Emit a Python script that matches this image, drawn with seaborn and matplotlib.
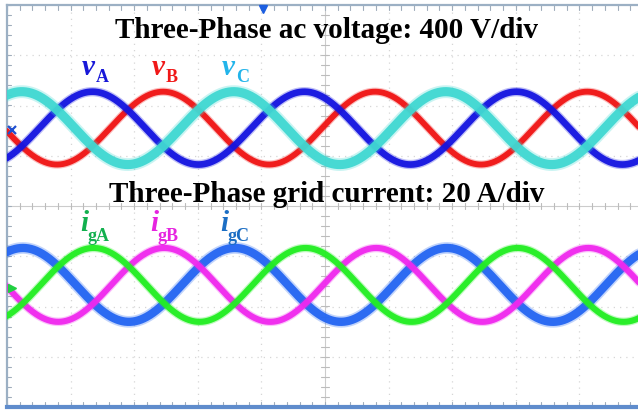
import numpy as np
import pandas as pd
import matplotlib
matplotlib.use("Agg")
import matplotlib.pyplot as plt
import seaborn as sns

# ---- data ----
freq_hz = 60.0                    # ~3.33 div per cycle at 5 ms/div
ms_per_div = 5.0
volt_per_div = 400.0
amp_per_div = 20.0

volt_names = ["vA", "vB", "vC"]
volt_peak = [290.0, 290.0, 290.0]          # V
volt_phase_deg = [35.0, -85.0, 155.0]      # phase at t = 0 (screen centre)
volt_offset_div = 1.55                     # channel ground position (div)

curr_names = ["igA", "igB", "igC"]
curr_peak = [14.7, 14.7, 14.7]             # A
curr_phase_deg = [33.0, -87.0, 153.0]
curr_offset_div = -1.57

trace_colors = {"vA": "#1414e0", "vB": "#f01414", "vC": "#40d8d2",
                "igA": "#22ee22", "igB": "#f028ee", "igC": "#2466f2"}
trace_width = {"vA": 4.8, "vB": 4.2, "vC": 6.6,
               "igA": 4.4, "igB": 4.4, "igC": 6.0}
draw_order = ["vB", "vA", "vC", "igC", "igB", "igA"]

title_v = "Three-Phase ac voltage: 400 V/div"
title_i = "Three-Phase grid current: 20 A/div"

# ---- build long-format table ----
t = np.linspace(-26, 26, 1500)     # ms
rows = []
for n, a, p in zip(volt_names, volt_peak, volt_phase_deg):
    y = volt_offset_div + a / volt_per_div * np.cos(2 * np.pi * freq_hz * t / 1000 + np.deg2rad(p))
    rows.append(pd.DataFrame({"t": t, "y": y, "trace": n}))
for n, a, p in zip(curr_names, curr_peak, curr_phase_deg):
    y = curr_offset_div + a / amp_per_div * np.cos(2 * np.pi * freq_hz * t / 1000 + np.deg2rad(p))
    rows.append(pd.DataFrame({"t": t, "y": y, "trace": n}))
df = pd.concat(rows, ignore_index=True)

sns.set_style("white")
W, H = 638, 412
fig = plt.figure(figsize=(W / 100, H / 100), dpi=100)
fig.patch.set_facecolor("white")
ax = fig.add_axes([7 / W, 5 / H, 636 / W, 402 / H])
ax.set_xlim(-5 * ms_per_div, 5 * ms_per_div)
ax.set_ylim(-4, 4)
ax.set_facecolor("white")

# grid
gcol = "#d6d6d6"
for k in range(-4, 5):
    if k != 0:
        ax.axvline(k * ms_per_div, color=gcol, lw=0.9, ls=(0, (1, 4)), zorder=0)
for k in range(-3, 4):
    if k != 0:
        ax.axhline(k, color=gcol, lw=0.9, ls=(0, (1, 4)), zorder=0)
ax.axvline(0, color="#cccccc", lw=0.8, zorder=0)
ax.axhline(0, color="#cccccc", lw=0.8, zorder=0)
# minor ticks on centre lines
for k in np.arange(-25, 25.01, 1.0):
    ax.plot([k, k], [-0.06, 0.06], color="#bcbcbc", lw=0.8, zorder=0)
for k in np.arange(-4, 4.01, 0.2):
    ax.plot([-0.3, 0.3], [k, k], color="#bcbcbc", lw=0.8, zorder=0)
# border ticks
for k in np.arange(-25, 25.01, 1.0):
    ax.plot([k, k], [4, 3.9], color="#a0adbb", lw=0.8, zorder=0)
    ax.plot([k, k], [-4, -3.9], color="#a0adbb", lw=0.8, zorder=0)
for k in np.arange(-4, 4.01, 0.2):
    ax.plot([-25, -24.7], [k, k], color="#a0adbb", lw=0.8, zorder=0)

# traces
for i, n in enumerate(draw_order):
    sub = df[df.trace == n]
    sns.lineplot(data=sub, x="t", y="y", ax=ax, color=trace_colors[n],
                 lw=trace_width[n] * 1.4, alpha=0.28, zorder=2 + 2 * i,
                 legend=False, sort=False, estimator=None)
    sns.lineplot(data=sub, x="t", y="y", ax=ax, color=trace_colors[n],
                 lw=trace_width[n], alpha=0.95, zorder=3 + 2 * i,
                 legend=False, sort=False, estimator=None)

ax.set_xlabel("")
ax.set_ylabel("")
ax.set_xticks([])
ax.set_yticks([])
for s in ["left", "top", "right"]:
    ax.spines[s].set_color("#9cb0c4")
    ax.spines[s].set_linewidth(1.6)
ax.spines["bottom"].set_color("#5f8ccc")
ax.spines["bottom"].set_linewidth(3.0)

# markers
ax.plot([(263 - 325.5) / 63.6 * ms_per_div], [3.93], marker="v",
        color="#1c5ee0", ms=6, clip_on=False, zorder=20)
ax.plot([-24.6], [(206 - 130) / 50.25], marker="x", color="#2050d0", ms=6, mew=1.6,
        clip_on=False, zorder=20)
ax.plot([-24.6], [(206 - 288) / 50.25], marker=">", color="#20d040", ms=6, clip_on=False, zorder=20)

# titles
serif = ["Liberation Serif", "DejaVu Serif"]
fig.text(327 / W, 1 - 31 / H, title_v, ha="center", va="center", fontsize=21,
         fontweight="bold", family=serif, color="black")
fig.text(327 / W, 1 - 195 / H, title_i, ha="center", va="center", fontsize=21,
         fontweight="bold", family=serif, color="black")

# trace labels
def label(x, y, main, sub, color, msize, ssize, dx, dy):
    fig.text(x / W, 1 - y / H, main, fontsize=msize, fontweight="bold", style="italic",
             family=serif, color=color, ha="left", va="baseline")
    fig.text((x + dx) / W, 1 - (y + dy) / H, sub, fontsize=ssize, fontweight="bold",
             family=serif, color=color, ha="left", va="baseline")

label(82, 75, "v", "A", "#1818d8", 21, 13, 14, 7)
label(152, 75, "v", "B", "#f01818", 21, 13, 14, 7)
label(222, 75, "v", "C", "#22b4ea", 21, 13, 14, 7)
label(80, 231, "i", "gA", "#12b04e", 21, 13, 8, 10)
label(150, 231, "i", "gB", "#e624e0", 21, 13, 8, 10)
label(220, 231, "i", "gC", "#1c6ec4", 21, 13, 8, 10)

fig.savefig("out.png", dpi=100, facecolor="white")
